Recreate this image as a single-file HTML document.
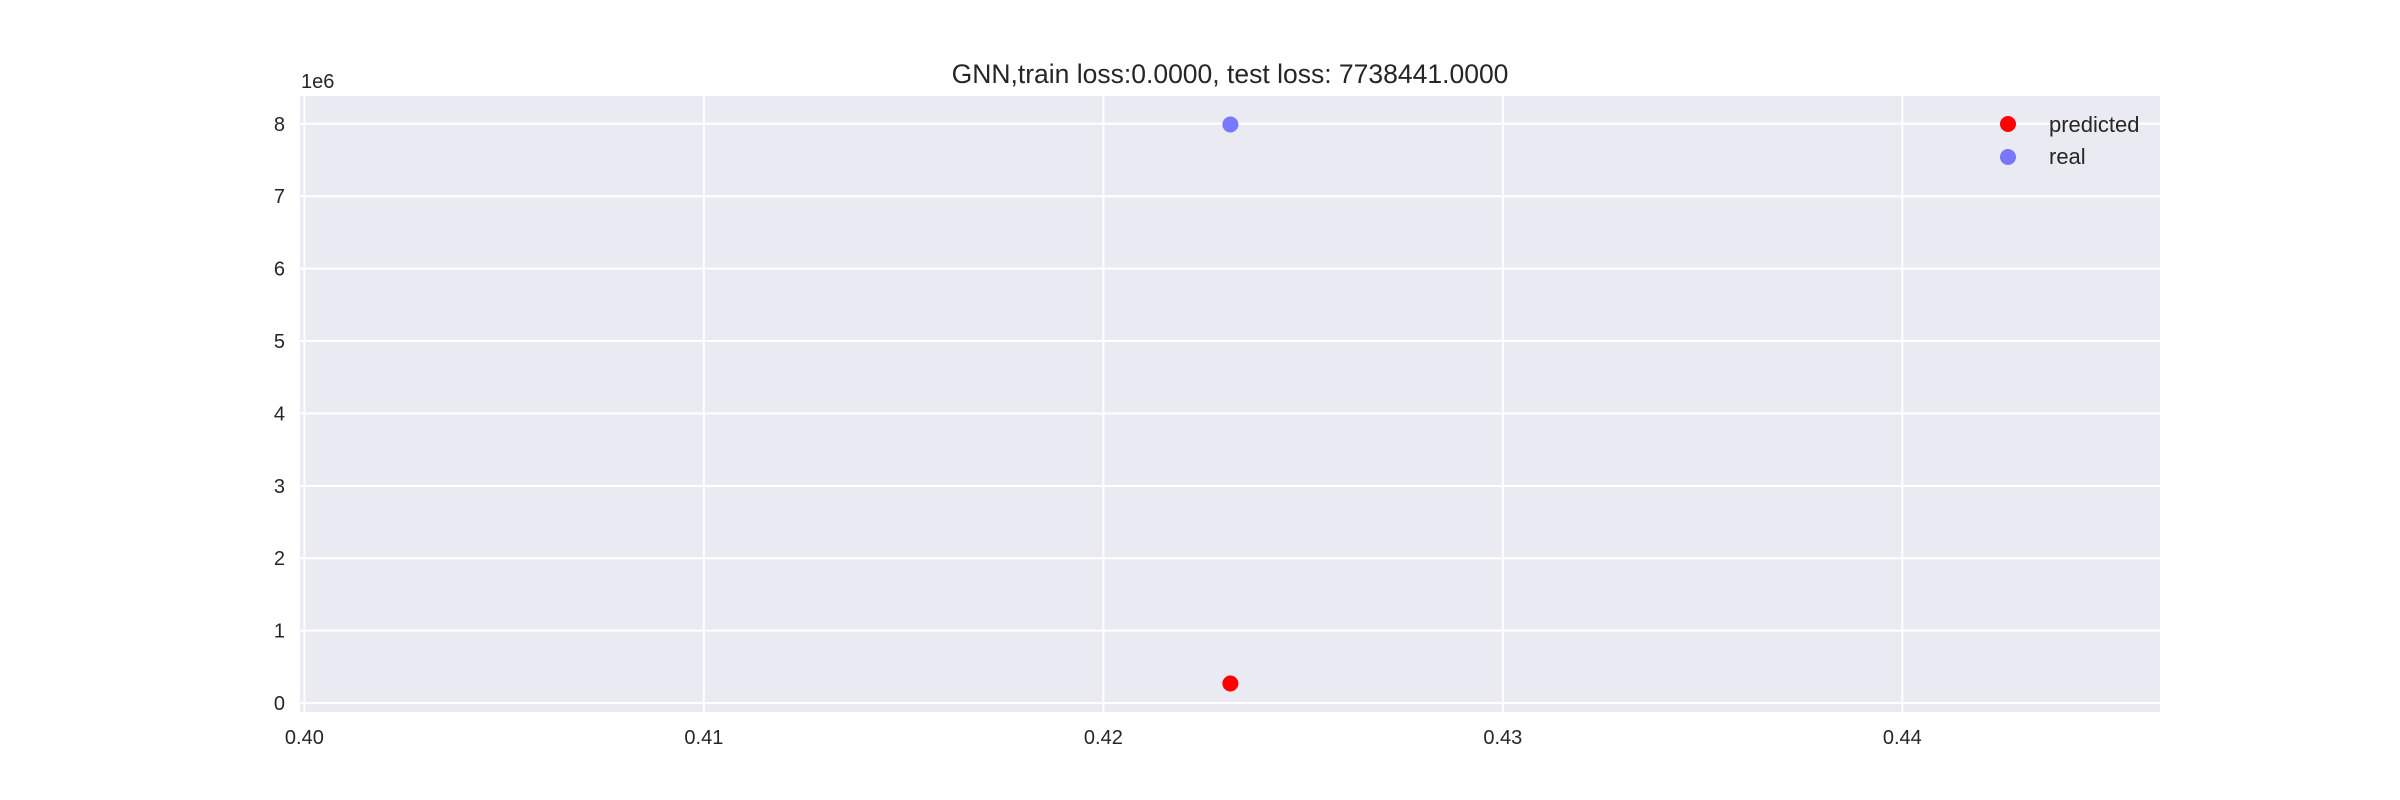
<!DOCTYPE html>
<html><head><meta charset="utf-8"><style>
body{margin:0;background:#fff;}
svg{display:block;font-family:"Liberation Sans",sans-serif;}
</style></head><body>
<svg id="chart" width="2400" height="800"></svg>
<script>
const xTicks=[0.40,0.41,0.42,0.43,0.44];
const xTickLabels=["0.40","0.41","0.42","0.43","0.44"];
const yTicks=[0,1,2,3,4,5,6,7,8];
const yTickLabels=["0","1","2","3","4","5","6","7","8"];
const predictedX=[0.42318];
const predictedY=[0.27];
const realX=[0.42318];
const realY=[7.99];
const NS="http://www.w3.org/2000/svg";
const svg=document.getElementById('chart');
const L=300,R=2160,T=96,B=712;
const xmin=0.39989,xmax=0.44645,ymin=-0.124,ymax=8.384;
function sx(v){return L+(v-xmin)/(xmax-xmin)*(R-L);}
function sy(v){return B-(v-ymin)/(ymax-ymin)*(B-T);}
function mk(tag,attrs){const e=document.createElementNS(NS,tag);for(const k in attrs)e.setAttribute(k,attrs[k]);svg.appendChild(e);return e;}
let bg=mk('rect',{x:L,y:T,width:R-L,height:B-T,fill:'#eaeaf2'});


xTicks.forEach((v,i)=>{
  let g=mk('line',{x1:sx(v),x2:sx(v),y1:T,y2:B,stroke:'#fff','stroke-width':2});
  
  
  let t=mk('text',{x:sx(v),y:744,'font-size':20,fill:'#262626','text-anchor':'middle'});
  t.textContent=xTickLabels[i];
  
  
});
yTicks.forEach((v,i)=>{
  let g=mk('line',{x1:L,x2:R,y1:sy(v),y2:sy(v),stroke:'#fff','stroke-width':2});
  
  
  let t=mk('text',{x:285,y:sy(v)+7,'font-size':20,fill:'#262626','text-anchor':'end'});
  t.textContent=yTickLabels[i];
  
  
});
predictedX.forEach((v,i)=>{
  let c=mk('circle',{cx:sx(v),cy:sy(predictedY[i]),r:8,fill:'#ff0000'});
  
  
});
realX.forEach((v,i)=>{
  let c=mk('circle',{cx:sx(v),cy:sy(realY[i]),r:8,fill:'#7777ff'});
  
  
});
</script>
<svg style="position:absolute;left:0;top:0" width="2400" height="800">
<text x="1230" y="83" font-size="26.5" fill="#262626" text-anchor="middle">GNN,train loss:0.0000, test loss: 7738441.0000</text>
<text x="301" y="88" font-size="20" fill="#262626">1e6</text>
<g>
<circle cx="2008" cy="124" r="8" fill="#ff0000"/>
<text x="2049" y="132" font-size="22" fill="#262626">predicted</text>
<circle cx="2008" cy="157" r="8" fill="#7777ff"/>
<text x="2049" y="164" font-size="22" fill="#262626">real</text>
</g>
</svg>
</body></html>
